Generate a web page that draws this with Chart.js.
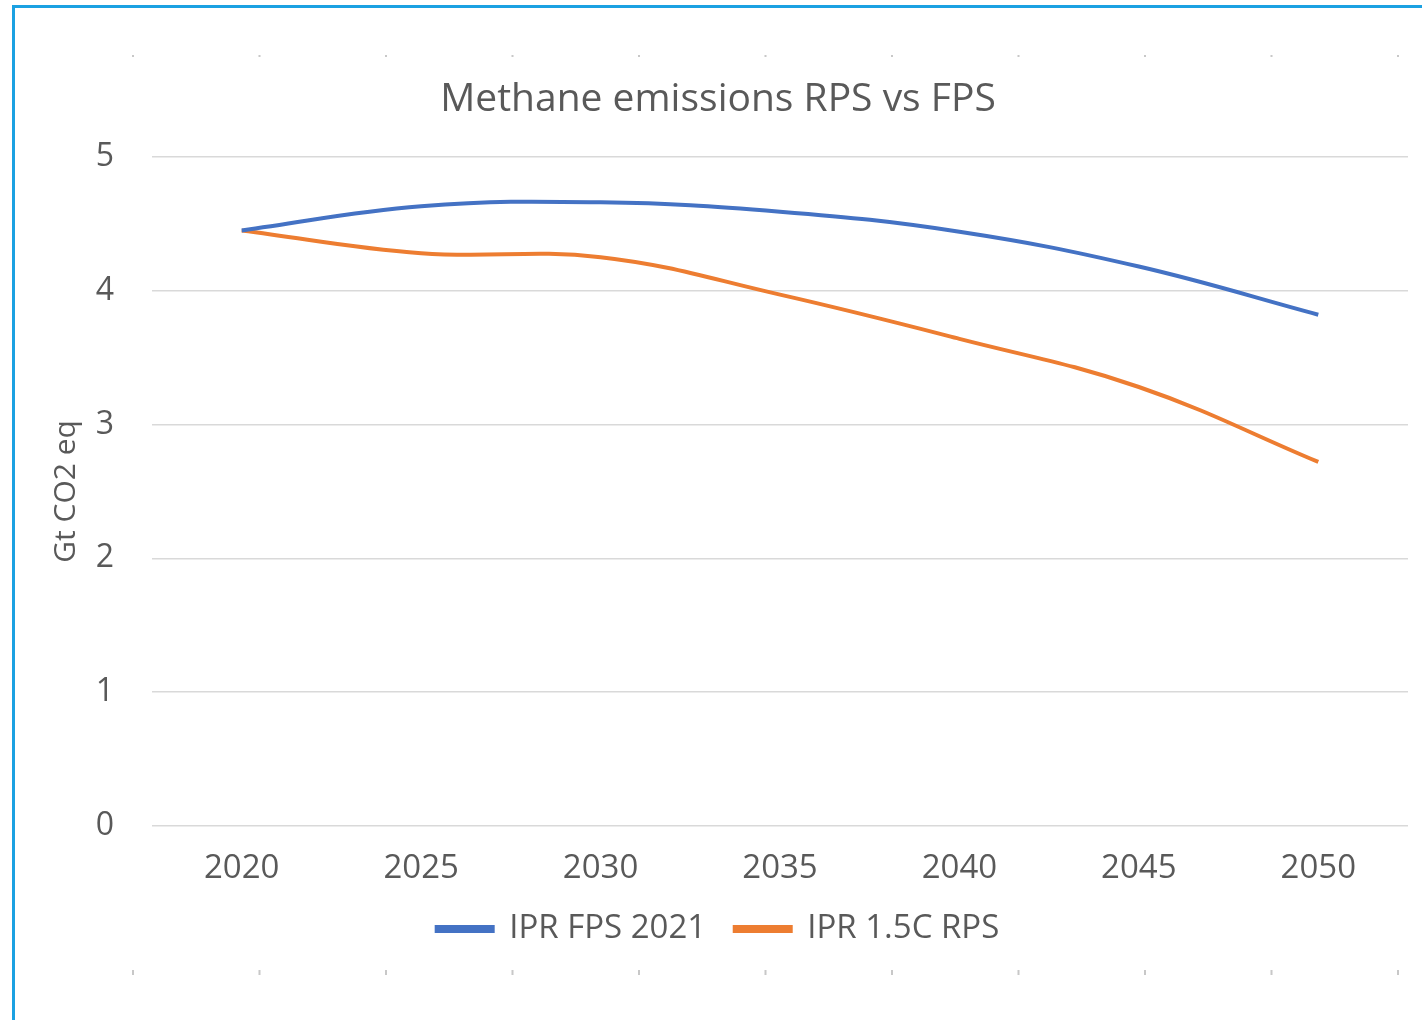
<!DOCTYPE html>
<html>
<head>
<meta charset="utf-8">
<title>Methane emissions RPS vs FPS</title>
<script src="https://cdn.jsdelivr.net/npm/chart.js@4.4.1/dist/chart.umd.min.js"></script>
<style>
    html, body { margin: 0; padding: 0; background: #ffffff; }
    body { width: 1422px; height: 1020px; position: relative; overflow: hidden; }
    #frame {
        position: absolute; left: 12px; top: 5px; right: -10px; bottom: -10px;
        border-left: 3px solid #1ba1e2; border-top: 3px solid #1ba1e2;
    }
    #wrap { position: absolute; left: 0; top: 0; width: 1422px; height: 1020px; }
</style>
</head>
<body>
<div id="frame"></div>
<div id="wrap"><canvas id="methaneChart"></canvas></div>
<script>
// data dari grafik (dibaca kira-kira dari gambar)
const years = ['2020', '2025', '2030', '2035', '2040', '2045', '2050'];
const fps2021 = [4.45, 4.63, 4.66, 4.59, 4.44, 4.18, 3.82];
const rps15c = [4.45, 4.28, 4.25, 3.97, 3.64, 3.28, 2.72];
const yTicks = [0, 1, 2, 3, 4, 5];

const textGrey = '#595959';
const fontFam = "'Open Sans', 'Liberation Sans', sans-serif";

// titik-titik kecil di atas & bawah (sisa handle dari excel)
const handleDots = {
    id: 'handleDots',
    afterDraw(chart) {
        let ctx = chart.ctx;
        ctx.save();
        ctx.fillStyle = '#c8c8c8';
        for (let i = 0; i < 11; i++) {
            let x = 133 + i * 126.5;
            ctx.fillRect(x - 1, 55, 2, 2);
            ctx.fillRect(x - 1, 970, 2, 5);
        }
        ctx.restore();
    }
};

let ctx = document.getElementById('methaneChart').getContext('2d');

new Chart(ctx, {
    type: 'line',
    data: {
        labels: years,
        datasets: [
            {
                label: 'IPR FPS 2021',
                data: fps2021,
                borderColor: '#4472c4',
                backgroundColor: '#4472c4',
                borderWidth: 4,
                pointRadius: 0,
                tension: 0.4
            },
            {
                label: 'IPR 1.5C RPS',
                data: rps15c,
                borderColor: '#ed7d31',
                backgroundColor: '#ed7d31',
                borderWidth: 4,
                pointRadius: 0,
                tension: 0.4
            }
        ]
    },
    options: {
        responsive: true,
        maintainAspectRatio: false,
        animation: false,
        devicePixelRatio: 1,
        layout: {
            padding: { left: 28, right: 14, top: 76, bottom: 64.5 }
        },
        plugins: {
            title: {
                display: true,
                text: 'Methane emissions RPS vs FPS',
                color: textGrey,
                font: { family: fontFam, size: 39, weight: 'normal' },
                padding: { top: 0, bottom: 34 }
            },
            legend: {
                display: true,
                position: 'bottom',
                labels: {
                    color: textGrey,
                    font: { family: fontFam, size: 33 },
                    boxWidth: 56,
                    boxHeight: 4,
                    padding: 28.5
                }
            },
            tooltip: { enabled: false }
        },
        scales: {
            x: {
                type: 'category',
                offset: true,
                grid: { display: false, drawTicks: false },
                border: { display: false },
                ticks: {
                    color: textGrey,
                    font: { family: fontFam, size: 33, lineHeight: 0.8 },
                    padding: 29,
                    maxRotation: 0
                },
                // tinggi sumbu x dipendekin (chart.js hitung padding 2x), label masih muat
                afterFit: (scale) => {
                    scale.height = 58;
                }
            },
            y: {
                min: 0,
                max: 5,
                afterBuildTicks: (scale) => {
                    scale.ticks = yTicks.map(v => ({ value: v }));
                },
                afterFit: (scale) => {
                    scale.width = 124;
                },
                grid: { color: '#d9d9d9', lineWidth: 1.5, drawTicks: false },
                border: { display: false },
                ticks: {
                    color: textGrey,
                    font: { family: fontFam, size: 32 },
                    padding: 38
                },
                title: {
                    display: true,
                    text: 'Gt CO2 eq',
                    color: textGrey,
                    font: { family: fontFam, size: 30 },
                    padding: { top: 20, bottom: 0 }
                }
            }
        }
    },
    plugins: [handleDots]
});
</script>
</body>
</html>
